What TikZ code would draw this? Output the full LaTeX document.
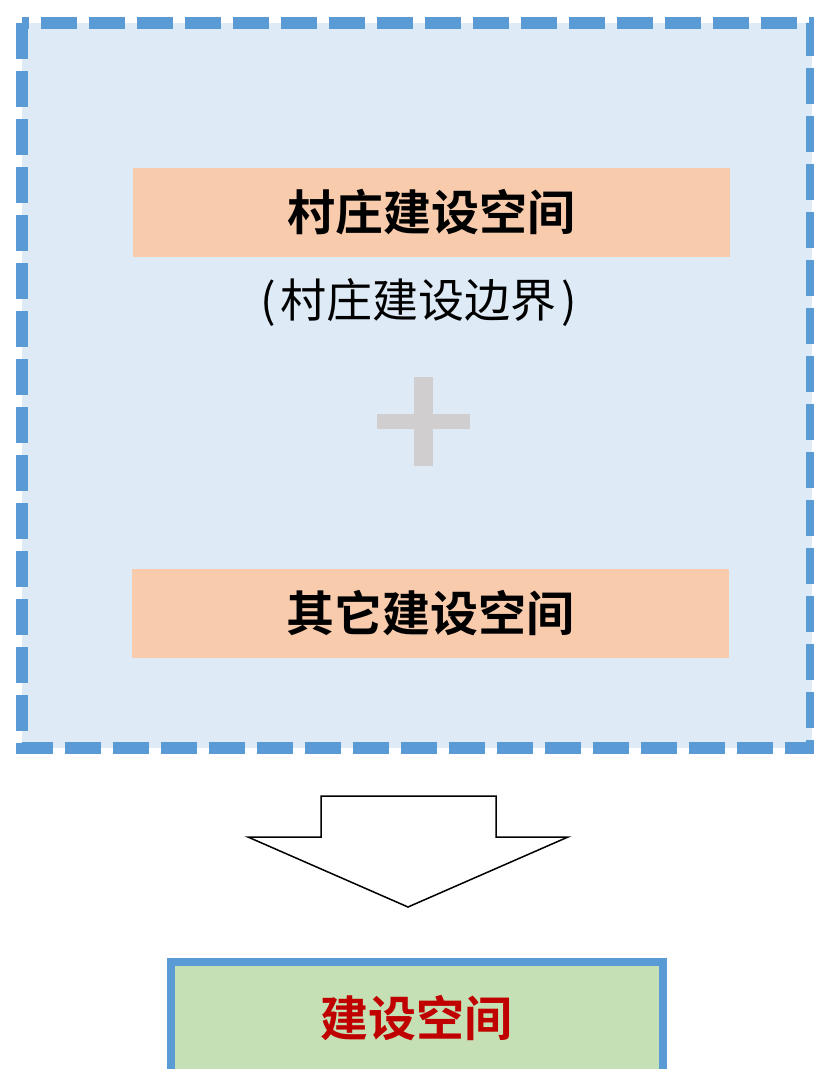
\documentclass[tikz,border=0pt]{standalone}
\usepackage{fontspec}
\newfontfamily\cjk{Noto Sans CJK SC}[BoldFont={Noto Sans CJK SC Bold}]
\usetikzlibrary{positioning}
\definecolor{frameblue}{HTML}{5B9BD5}
\definecolor{paleblue}{HTML}{DEEBF7}
\definecolor{peach}{HTML}{F8CBAD}
\definecolor{sage}{HTML}{C5E0B4}
\definecolor{plusgray}{HTML}{D0CECE}
\definecolor{darkred}{HTML}{C00000}

\begin{document}
\begin{tikzpicture}[x=1pt, y=-1pt, font=\cjk,
  spacebox/.style={fill=peach, minimum width=597pt, minimum height=89pt, inner sep=0pt,
    font=\cjk\bfseries\fontsize{48}{58}\selectfont}]
  \useasboundingbox (0,0) rectangle (814,1069);

  % Vnější přerušovaný rámec
  \draw[frameblue, fill=paleblue, line width=12pt, dash pattern=on 36pt off 12pt]
    (21.5,23) rectangle (812,748);

  % Dvě složky
  \node[spacebox] (village) at (431.5,212.5) {村庄建设空间};
  \node[font=\cjk\fontsize{46}{54}\selectfont] (boundary) at (419,303)
    {(\hspace{5pt}村庄建设边界\hspace{5pt})};
  \node[spacebox] (other) at (430.5,613.5) {其它建设空间};

  % Znaménko plus
  \fill[plusgray] (414,377) rectangle (433,466);
  \fill[plusgray] (377,414) rectangle (470,429);

  % Bloková šipka dolů
  \draw[line width=1.5pt, fill=white, line join=miter]
    (321,796) -- (496,796) -- (496,837) -- (568,837) -- (408,907)
    -- (248,837) -- (321,837) -- cycle;

  % Výsledek
  \node[draw=frameblue, line width=8pt, fill=sage, minimum width=492pt, minimum height=113pt,
    inner sep=0pt, text=darkred, font=\cjk\bfseries\fontsize{48}{58}\selectfont]
    (result) at (416.5,1018.5) {建设空间};
\end{tikzpicture}
\end{document}
